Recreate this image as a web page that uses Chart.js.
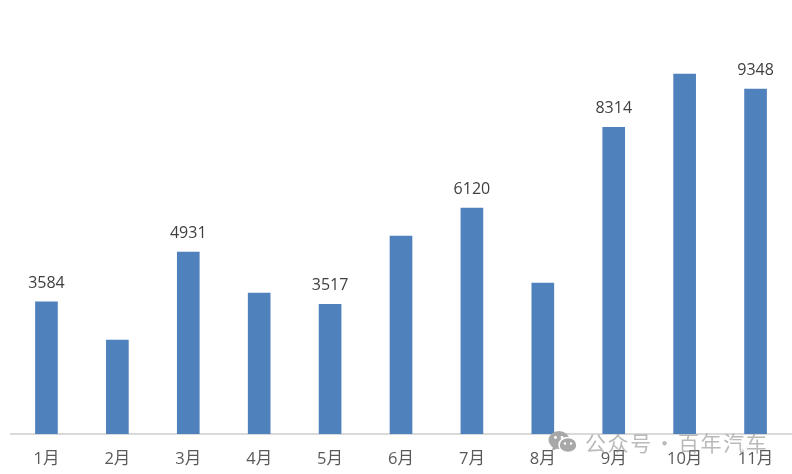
<!DOCTYPE html>
<html>
<head>
<meta charset="utf-8">
<script src="https://cdn.jsdelivr.net/npm/chart.js@4"></script>
<style>
html, body { margin: 0; padding: 0; background: #fff; }
#wrap { position: relative; width: 792px; height: 474px; overflow: hidden; }
#watermark { position: absolute; left: 548px; top: 429px; height: 26px; display: flex; align-items: center; color: rgba(140,140,140,0.6); font: 21px "Noto Sans CJK SC", sans-serif; letter-spacing: 1.6px; word-spacing: -5px; white-space: nowrap; }
#watermark svg { margin-right: 7px; }
</style>
</head>
<body>
<div id="wrap">
<canvas id="salesChart" width="792" height="474"></canvas>
<div id="watermark">
<svg width="30" height="24" viewBox="0 0 30 24">
<ellipse cx="11" cy="10" rx="10.5" ry="9" fill="#a8a8a8"/>
<path d="M5 16 L4 21 L10 18 Z" fill="#a8a8a8"/>
<ellipse cx="20" cy="15" rx="9" ry="7.5" fill="#a8a8a8" stroke="#fff" stroke-width="1.5"/>
<circle cx="7.5" cy="7.5" r="1.4" fill="#fff"/>
<circle cx="14" cy="7.5" r="1.4" fill="#fff"/>
<circle cx="17" cy="13.5" r="1.2" fill="#fff"/>
<circle cx="23" cy="13.5" r="1.2" fill="#fff"/>
</svg>
<span>公众号 · 百年汽车</span>
</div>
</div>
<script>
const months = ['1月', '2月', '3月', '4月', '5月', '6月', '7月', '8月', '9月', '10月', '11月'];
const sales = [3584, 2547, 4931, 3820, 3517, 5365, 6120, 4090, 8314, 9755, 9348];
const labelledMonths = ['1月', '3月', '5月', '7月', '9月', '11月'];

const fontStack = '"Open Sans", "Noto Sans CJK SC", sans-serif';

// only some bars carry a value in the original
const barLabels = {
    id: 'barLabels',
    afterDatasetsDraw: function (chart) {
        const ctx = chart.ctx;
        const bars = chart.getDatasetMeta(0).data;
        ctx.save();
        ctx.font = '16px ' + fontStack;
        ctx.fillStyle = '#404040';
        ctx.textAlign = 'center';
        ctx.textBaseline = 'alphabetic';
        bars.forEach(function (bar, i) {
            if (labelledMonths.includes(months[i])) {
                ctx.fillText(String(sales[i]), bar.x, bar.y - 14);
            }
        });
        ctx.restore();
    }
};

new Chart(document.getElementById('salesChart').getContext('2d'), {
    type: 'bar',
    data: {
        labels: months,
        datasets: [{
            data: sales,
            backgroundColor: '#4f81bd',
            barThickness: 22
        }]
    },
    options: {
        responsive: false,
        animation: false,
        layout: { padding: { left: 11, right: 1, top: 65, bottom: 6 } },
        plugins: { legend: { display: false }, tooltip: { enabled: false } },
        scales: {
            x: {
                offset: true,
                afterFit: function (scale) { scale.height = 34; },
                grid: { display: false, drawTicks: false },
                border: { color: '#d9d9d9', width: 2 },
                ticks: { color: '#595959', font: { size: 16.5, family: fontStack }, padding: 15, maxRotation: 0 }
            },
            y: {
                display: false,
                min: 0,
                max: 10000
            }
        }
    },
    plugins: [barLabels]
});
</script>
</body>
</html>
